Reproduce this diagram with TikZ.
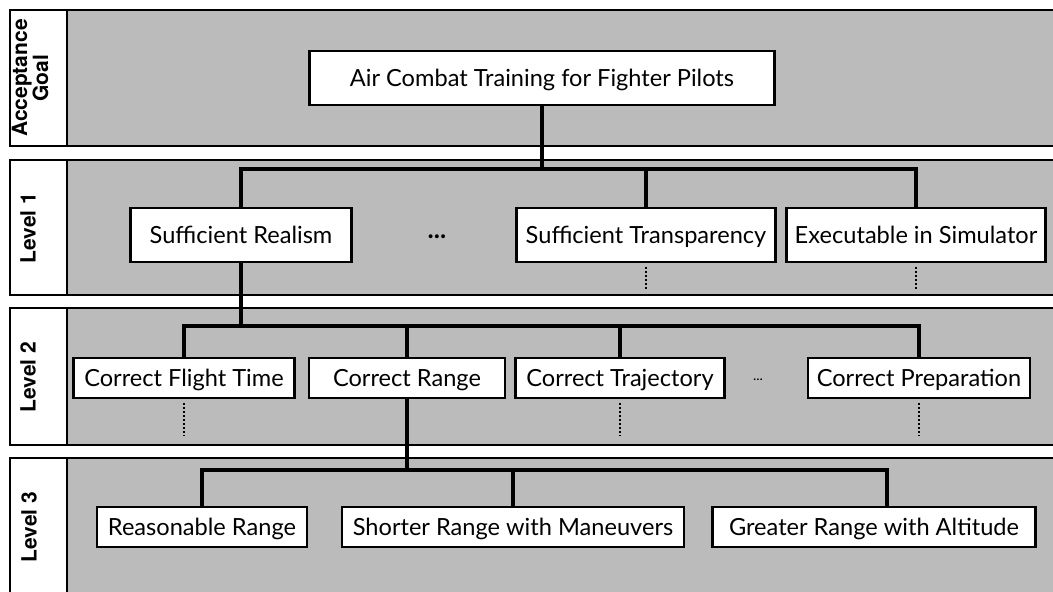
\documentclass[tikz,border=0pt]{standalone}
\usepackage{fontspec}
\setsansfont{Lato}
\newfontfamily\tagfont{TeX Gyre Heros}
\definecolor{bandgray}{RGB}{187,187,187}

\tikzset{
  band/.style={draw=black,fill=bandgray,line width=0.9pt},
  tagcol/.style={draw=black,fill=white,line width=0.9pt},
  tag/.style={rotate=90,align=center,inner sep=0pt,
    font=\tagfont\bfseries\fontsize{10.5}{10.5}\selectfont},
  box/.style={draw=black,fill=white,line width=1.1pt,inner sep=0pt,
    text height=2ex,text depth=.1ex,
    font=\sffamily\fontsize{11.8}{13}\selectfont},
  bigbox/.style={box,minimum height=27pt},
  smallbox/.style={box,minimum height=20pt},
  conn/.style={line width=1.7pt},
  stub/.style={line width=1.1pt,dash pattern=on 0.8pt off 1.2pt},
}

\begin{document}
\begin{tikzpicture}[x=0.5pt,y=-0.5pt]
  \useasboundingbox (0,0) rectangle (1053,591);
  \clip (0,0) rectangle (1053,591);

  % the four bands
  \draw[band] (10,10) rectangle (1070,146);
  \draw[band] (10,160) rectangle (1070,295);
  \draw[band] (10,308) rectangle (1070,445);
  \draw[band] (10,458) rectangle (1070,620);
  \draw[tagcol] (10,10) rectangle (67,146);
  \draw[tagcol] (10,160) rectangle (67,295);
  \draw[tagcol] (10,308) rectangle (67,445);
  \draw[tagcol] (10,458) rectangle (67,620);

  \node[tag] (t0) at (30,78) {Acceptance\\Goal};
  \node[tag] (t1) at (28,228) {Level 1};
  \node[tag] (t2) at (28,377) {Level 2};
  \node[tag] (t3) at (29,527) {Level 3};

  % goal
  \node[bigbox,minimum width=232.5pt] (goal) at (542,78) {Air Combat Training for Fighter Pilots};

  % level 1
  \node[bigbox,minimum width=110.5pt] (real) at (241,235) {Sufficient Realism};
  \node[font=\sffamily\bfseries\fontsize{13}{13}\selectfont] (gap1) at (437,237) {...};
  \node[bigbox,minimum width=129.5pt] (transp) at (646,235) {Sufficient Transparency};
  \node[bigbox,minimum width=129.5pt] (exec) at (916,235) {Executable in Simulator};

  % level 2
  \node[smallbox,minimum width=110.5pt] (flight) at (184,378) {Correct Flight Time};
  \node[smallbox,minimum width=98pt] (range) at (407,378) {Correct Range};
  \node[smallbox,minimum width=104.5pt] (traj) at (620,378) {Correct Trajectory};
  \node[font=\sffamily\fontsize{7}{7}\selectfont] (gap2) at (758,380) {...};
  \node[smallbox,minimum width=111pt] (prep) at (919,378) {Correct Preparation};

  % level 3
  \node[smallbox,minimum width=105pt] (reas) at (202,527) {Reasonable Range};
  \node[smallbox,minimum width=171pt] (short) at (513,527) {Shorter Range with Maneuvers};
  \node[smallbox,minimum width=161.5pt] (great) at (874,527) {Greater Range with Altitude};

  \coordinate (b1) at (542,169);
  \coordinate (b2) at (241,326);
  \coordinate (b3) at (407,470);

  \foreach \c in {real,transp,exec}
    \draw[conn] (goal.south) -- (b1) -| (\c.north);
  \foreach \c in {flight,range,traj,prep}
    \draw[conn] (real.south) -- (b2) -| (\c.north);
  \draw[conn] (range.south) -- (b3) -| (reas.north);
  \draw[conn] (range.south) -- (b3) -| (short.north);
  \draw[conn] (range.south) -- (b3) -| ([xshift=6.5pt]great.north);

  \foreach \c in {transp,exec}
    \draw[stub] ([yshift=-2pt]\c.south) -- ++(0,22);
  \foreach \c in {flight,traj,prep}
    \draw[stub] ([yshift=-2pt]\c.south) -- ++(0,33);
\end{tikzpicture}
\end{document}
